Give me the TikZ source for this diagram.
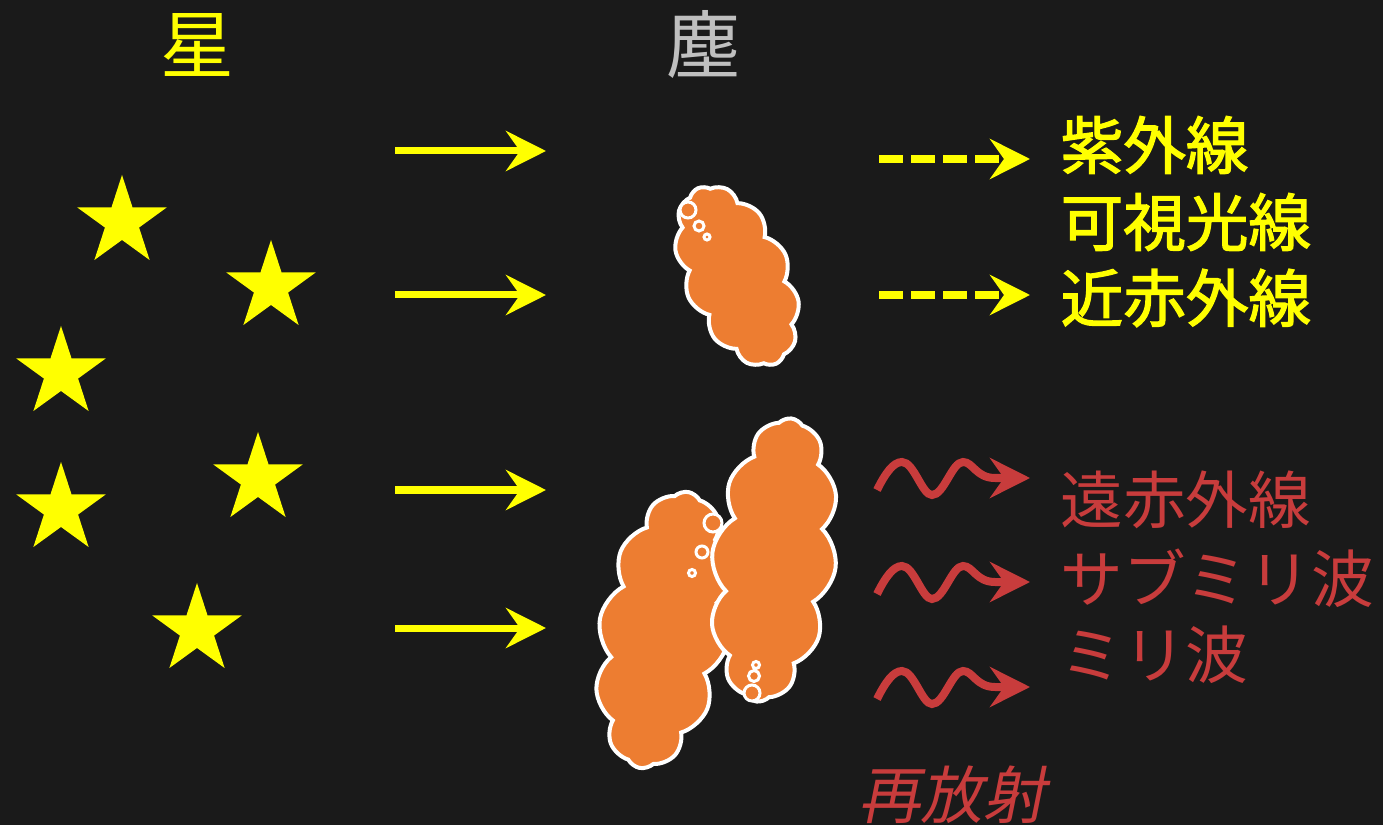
\documentclass[tikz,border=0pt]{standalone}
\usepackage{fontspec}
\usetikzlibrary{arrows.meta,shapes.geometric,shapes.symbols}
\newfontfamily\cjk{Noto Sans CJK JP}
\newfontfamily\cjkmed[FakeBold=2]{Noto Sans CJK JP}
\newfontfamily\cjkslant[FakeSlant=0.2]{Noto Sans CJK JP}

\definecolor{bgdark}{HTML}{1A1A1A}
\definecolor{starYellow}{HTML}{FFFF00}
\definecolor{dustOrange}{HTML}{ED7D31}
\definecolor{dustGray}{HTML}{BFBFBF}
\definecolor{farRed}{HTML}{C83C3C}

\begin{document}
\begin{tikzpicture}
    [x=0.01cm, y=-0.01cm,
     starnode/.style={star, star points=5, star point ratio=2.618, fill=starYellow, minimum size=0.94cm, inner sep=0pt},
     dust/.style={cloud, cloud puffs=12, cloud puff arc=105, cloud ignores aspect, fill=dustOrange, draw=white, line width=0.04cm, inner sep=0pt},
     bubble/.style={fill=dustOrange, draw=white, line width=0.03cm},
     light/.style={line width=0.07cm, starYellow, -{Stealth[length=0.4cm, width=0.4cm, inset=0.14cm]}},
     shine/.style={line width=0.08cm, starYellow, dash pattern=on 0.24cm off 0.08cm, -{Stealth[length=0.4cm, width=0.4cm, inset=0.14cm]}},
     reemit/.style={line width=0.08cm, farRed, -{Stealth[length=0.4cm, width=0.4cm, inset=0.14cm]}},
     title/.style={inner sep=0pt, font=\cjk\fontsize{21}{24}\selectfont},
     band/.style={anchor=west, inner sep=0pt, font=\cjk\fontsize{17.8}{20}\selectfont}]

    \fill[bgdark] (0,0) rectangle (1383,825);
    \useasboundingbox (0,0) rectangle (1383,825);

    % headings
    \node[title, starYellow] (hstar) at (197,45) {星};
    \node[title, dustGray] (hdust) at (703,45) {塵};

    % stars
    \foreach \x/\y [count=\i] in {122/222, 271/287, 61/373, 258/479, 61/509, 197/630}
        \node[starnode] (star\i) at (\x,\y) {};

    % starlight going in
    \foreach \y [count=\i] in {151, 295, 490, 628} {
        \coordinate (inA\i) at (395,\y);
        \coordinate (inB\i) at (546,\y);
        \draw[light] (inA\i) -- (inB\i);
    }

    % dust clouds
    \node[dust, minimum width=1.92cm, minimum height=1.06cm, rotate=114] (dustS) at (737,276) {};
    \node[dust, minimum width=2.8cm, minimum height=1.3cm, rotate=80] (dustL) at (664,630) {};
    \node[dust, minimum width=2.85cm, minimum height=1.24cm, rotate=83] (dustR) at (774,560) {};

    \draw[bubble] (688,210) circle[radius=8];
    \draw[bubble] (699,226) circle[radius=5];
    \draw[bubble] (707,237) circle[radius=3];
    \draw[bubble] (713,523) circle[radius=9];
    \draw[bubble] (702,552) circle[radius=6];
    \draw[bubble] (692,573) circle[radius=3.5];
    \draw[bubble] (752,693) circle[radius=8];
    \draw[bubble] (754,676) circle[radius=5.5];
    \draw[bubble] (756,665) circle[radius=3.5];

    % light passing through
    \foreach \y [count=\i] in {159, 295} {
        \coordinate (outA\i) at (879,\y);
        \coordinate (outB\i) at (1030,\y);
        \draw[shine] (outA\i) -- (outB\i);
    }

    % re-emitted waves
    \foreach \y [count=\i] in {478, 582, 687} {
        \begin{scope}[shift={(0,\y)}]
            \coordinate (waveA\i) at (877,12);
            \coordinate (waveB\i) at (1030,0);
            \draw[reemit] (waveA\i) .. controls (885,-4) and (893,-16) .. (902,-16)
                .. controls (914,-16) and (922,17) .. (932,17)
                .. controls (944,17) and (952,-16) .. (963,-16)
                .. controls (973,-16) and (976,0) .. (995,0) -- (waveB\i);
        \end{scope}
    }

    % labels
    \node[band, starYellow] (uv) at (1060,145) {\cjkmed 紫外線};
    \node[band, starYellow] (vis) at (1060,222) {\cjkmed 可視光線};
    \node[band, starYellow] (nir) at (1060,298) {\cjkmed 近赤外線};
    \node[band, farRed] (fir) at (1060,500) {遠赤外線};
    \node[band, farRed] (submm) at (1060,578) {サブミリ波};
    \node[band, farRed] (mm) at (1060,655) {ミリ波};
    \node[inner sep=0pt, farRed, font=\cjkslant\fontsize{17.8}{20}\selectfont] (reem) at (952,795) {再放射};

\end{tikzpicture}
\end{document}
